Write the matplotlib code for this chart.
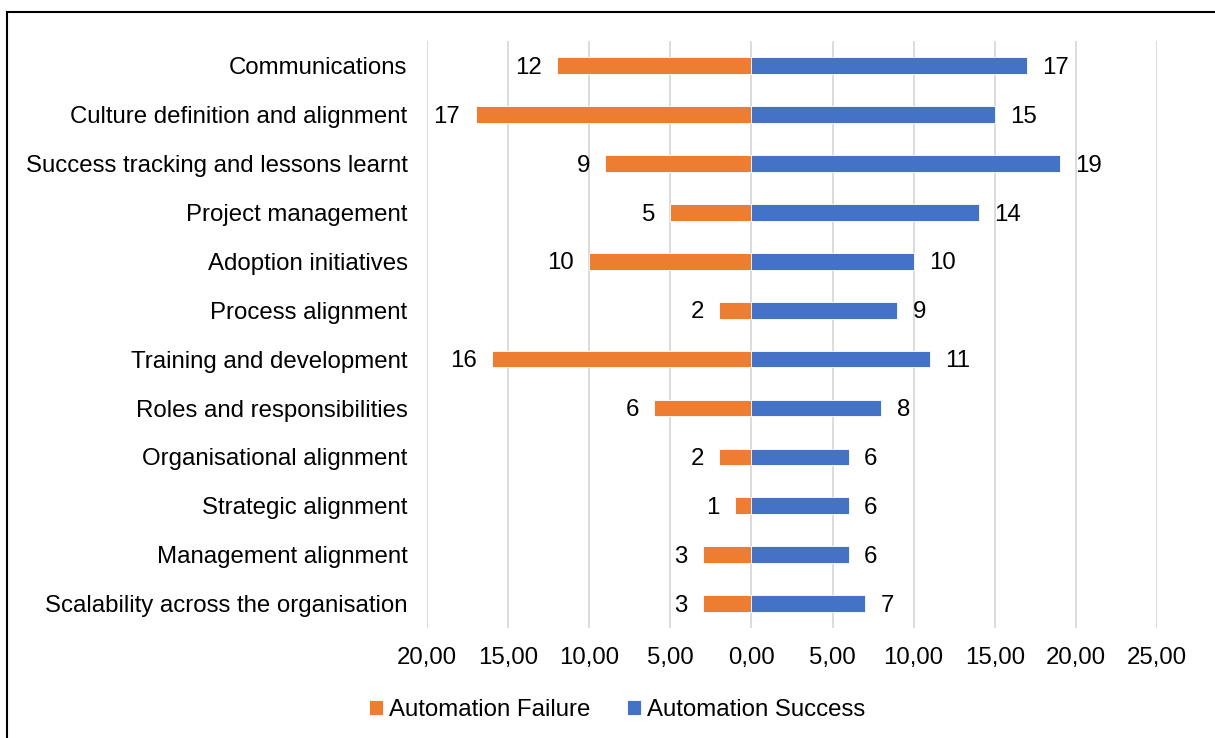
import matplotlib.pyplot as plt
from matplotlib.patches import Rectangle
from matplotlib.ticker import FuncFormatter

plt.rcParams["font.family"] = ["Liberation Sans", "DejaVu Sans"]

categories = [
    "Communications",
    "Culture definition and alignment",
    "Success tracking and lessons learnt",
    "Project management",
    "Adoption initiatives",
    "Process alignment",
    "Training and development",
    "Roles and responsibilities",
    "Organisational alignment",
    "Strategic alignment",
    "Management alignment",
    "Scalability across the organisation",
]
failure = [12, 17, 9, 5, 10, 2, 16, 6, 2, 1, 3, 3]
success = [17, 15, 19, 14, 10, 9, 11, 8, 6, 6, 6, 7]
xticks = [-20, -15, -10, -5, 0, 5, 10, 15, 20, 25]

ORANGE = "#ED7D31"
BLUE = "#4472C4"
FS = 17.3

fig = plt.figure(figsize=(12.15, 7.38), dpi=100)
ax = fig.add_axes([0.3514, 0.149, 0.6009, 0.795])

y = list(range(len(categories)))
neg = [-v for v in failure]
h = 0.34
bf = ax.barh(y, neg, height=h, color=ORANGE, edgecolor="white", lw=0.6,
             label="Automation Failure", zorder=3)
bs = ax.barh(y, success, height=h, color=BLUE, edgecolor="white", lw=0.6,
             label="Automation Success", zorder=3)

for yi, v in zip(y, failure):
    ax.annotate(str(v), xy=(-v, yi), xytext=(-11, -1.5), textcoords="offset points",
                ha="right", va="center", fontsize=FS)
for yi, v in zip(y, success):
    ax.annotate(str(v), xy=(v, yi), xytext=(11, -1.5), textcoords="offset points",
                ha="left", va="center", fontsize=FS)

ax.set_xlim(-20, 25)
ax.set_ylim(len(categories) - 0.5, -0.5)
ax.set_xticks(xticks)
ax.xaxis.set_major_formatter(FuncFormatter(lambda v, p: f"{abs(v):.2f}".replace(".", ",")))
ax.set_yticks(y)
ax.set_yticklabels(categories)
ax.tick_params(axis="both", length=0, labelsize=FS)
ax.tick_params(axis="y", pad=14)
ax.tick_params(axis="x", pad=14)
ax.grid(axis="x", color="#D9D9D9", lw=1.3, zorder=0)
for s in ax.spines.values():
    s.set_visible(False)

fig.legend(handles=[bf, bs], loc="center", bbox_to_anchor=(0.508, 0.038),
           ncol=2, frameon=False, fontsize=FS, handlelength=0.6, handleheight=0.6,
           handletextpad=0.25, columnspacing=1.5)

# outer frame
fig.patches.append(Rectangle((7 / 1215, -0.05), 1.1, 1 - 12 / 738 + 0.05,
                             transform=fig.transFigure, fill=False,
                             edgecolor="black", lw=1.5))

fig.savefig("out.png", dpi=100)
